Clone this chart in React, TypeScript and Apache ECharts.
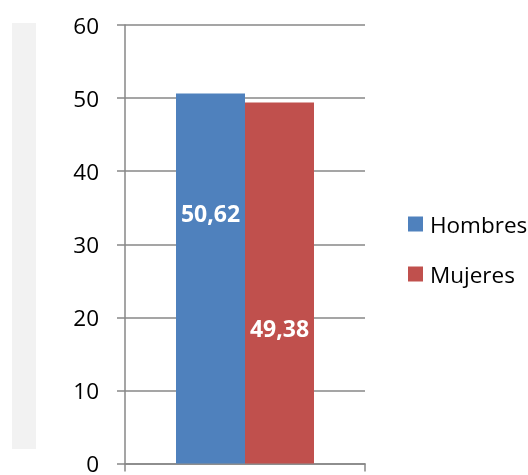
import React, { useEffect, useRef } from "react";
import * as echarts from "echarts";

const categories = [""];
const seriesNames = ["Hombres", "Mujeres"];
const hombres = [50.62];
const mujeres = [49.38];
const yTicks = { min: 0, max: 60, interval: 10 };

export default function App() {
  const ref = useRef<HTMLDivElement>(null);
  useEffect(() => {
    if (!ref.current) return;
    const chart = echarts.init(ref.current, undefined, { renderer: "svg" });
    const fmt = (p: any) => String(p.value).replace(".", ",");
    const labelStyle = {
      show: true,
      color: "#ffffff",
      fontFamily: "Open Sans",
      fontWeight: "bold" as const,
      fontSize: 23,
      align: "center" as const,
      verticalAlign: "middle" as const,
      formatter: fmt,
    };
    const axisColor = "#878787";
    chart.setOption({
      animation: false,
      graphic: [
        {
          type: "rect",
          shape: { x: 12, y: 23, width: 24, height: 426 },
          style: { fill: "#f2f2f2" },
          silent: true,
        },
      ],
      grid: { left: 125, top: 25, right: 163, bottom: 3, containLabel: false },
      legend: {
        orient: "vertical",
        left: 408,
        top: 212,
        padding: 0,
        itemWidth: 15,
        itemHeight: 15,
        itemGap: 26,
        icon: "rect",
        data: seriesNames,
        textStyle: {
          fontFamily: "Open Sans",
          fontSize: 22.5,
          lineHeight: 24,
          color: "#000000",
          padding: [0, 0, 0, 2],
        },
      },
      xAxis: {
        type: "category",
        data: categories,
        axisLine: { show: true, lineStyle: { color: axisColor, width: 1.5 } },
        axisTick: { show: true, length: 8, lineStyle: { color: axisColor, width: 1.5 } },
        axisLabel: { show: false },
      },
      yAxis: {
        type: "value",
        min: yTicks.min,
        max: yTicks.max,
        interval: yTicks.interval,
        axisLine: { show: true, lineStyle: { color: axisColor, width: 1.5 } },
        axisTick: { show: true, length: 8, lineStyle: { color: axisColor, width: 1.5 } },
        axisLabel: { fontFamily: "Open Sans", fontSize: 22.5, color: "#000000", margin: 26 },
        splitLine: { show: true, lineStyle: { color: axisColor, width: 1.5 } },
      },
      series: [
        {
          name: seriesNames[0],
          type: "bar",
          data: hombres,
          barWidth: 69,
          barGap: "0%",
          itemStyle: { color: "#4f81bd" },
          label: { ...labelStyle, position: ["50%", "32.4%"] },
        },
        {
          name: seriesNames[1],
          type: "bar",
          data: mujeres,
          barWidth: 69,
          barGap: "0%",
          itemStyle: { color: "#c0504d" },
          label: { ...labelStyle, position: ["50%", "62.5%"] },
        },
      ],
    });
    return () => chart.dispose();
  }, []);
  return (
    <div
      ref={ref}
      style={{ position: "fixed", left: 0, top: 0, width: 528, height: 475 }}
    />
  );
}
